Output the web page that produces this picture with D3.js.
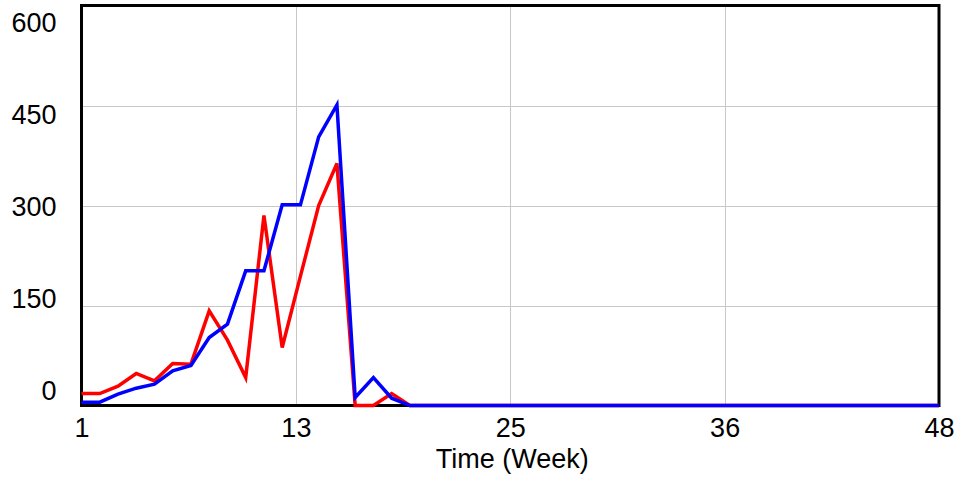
<!DOCTYPE html>
<html>
<head>
<meta charset="utf-8">
<script src="https://cdn.jsdelivr.net/npm/d3@7"></script>
<style>
  html, body { margin: 0; padding: 0; background: #ffffff; }
  svg { display: block; }
  text { font-family: "Liberation Sans", Arial, sans-serif; fill: #000; }
</style>
</head>
<body>
<svg id="chart" width="961" height="479"></svg>
<script>
// ---- data ----
const weeks = d3.range(1, 49);
const redSeries = [18, 18, 29, 48, 37, 63, 62, 142, 98, 42,
                   285, 87, 194, 300, 363, 0, 0, 18, 0, 0,
                   0, 0, 0, 0, 0, 0, 0, 0, 0, 0,
                   0, 0, 0, 0, 0, 0, 0, 0, 0, 0,
                   0, 0, 0, 0, 0, 0, 0, 0];
const blueSeries = [5, 5, 17, 26, 32, 52, 60, 102, 122, 202,
                    202, 301, 301, 403, 451, 12, 42, 11, 0, 0,
                    0, 0, 0, 0, 0, 0, 0, 0, 0, 0,
                    0, 0, 0, 0, 0, 0, 0, 0, 0, 0,
                    0, 0, 0, 0, 0, 0, 0, 0];
const xTickLabels = ["1", "13", "25", "36", "48"];
const yTickValues = [0, 150, 300, 450, 600];
const yTickLabels = ["0", "150", "300", "450", "600"];
const xAxisTitle = "Time (Week)";

// ---- layout ----
const pLeft = 81.5, pRight = 939, pTop = 5.5, pBottom = 405.5;
const fontSize = 27;
const svg = d3.select("#chart");

const x = d3.scaleLinear().domain([1, 48]).range([pLeft, pRight]);
const y = d3.scaleLinear().domain([0, 600]).range([pBottom, pTop]);
// Vensim-style label placement: labels spread evenly inside the plot height
const yLab = d3.scaleLinear().domain([0, 600]).range([391.3, 23.0]);

// x tick positions: equal quarters of the time span
const xTickPos = xTickLabels.map((_, i) => 1 + i * (47 / (xTickLabels.length - 1)));

// grid
const grid = svg.append("g").attr("stroke", "#c8c8c8").attr("stroke-width", 1);
grid.selectAll("line.h").data(yTickValues.slice(1, -1)).join("line")
  .attr("x1", pLeft).attr("x2", pRight)
  .attr("y1", d => Math.round(y(d)) + 0.5).attr("y2", d => Math.round(y(d)) + 0.5);
grid.selectAll("line.v").data(xTickPos.slice(1, -1)).join("line")
  .attr("x1", d => Math.round(x(d)) + 0.5).attr("x2", d => Math.round(x(d)) + 0.5)
  .attr("y1", pTop).attr("y2", pBottom);

// frame
svg.append("rect")
  .attr("x", pLeft).attr("y", pTop)
  .attr("width", pRight - pLeft).attr("height", pBottom - pTop)
  .attr("fill", "none").attr("stroke", "#000").attr("stroke-width", 3);

// lines
const line = d3.line().x((d, i) => x(weeks[i])).y(d => y(d));
svg.append("path").datum(redSeries)
  .attr("d", line).attr("fill", "none")
  .attr("stroke", "#ff0000").attr("stroke-width", 3.5).attr("stroke-linejoin", "miter");
svg.append("path").datum(blueSeries)
  .attr("d", line).attr("fill", "none")
  .attr("stroke", "#0000ff").attr("stroke-width", 3.5).attr("stroke-linejoin", "miter");

// x axis labels
const xAxis = d3.axisBottom(x)
  .tickValues(xTickPos)
  .tickFormat((d, i) => xTickLabels[i])
  .tickSize(0).tickPadding(12.5);
const gx = svg.append("g").attr("transform", `translate(0,${pBottom})`).call(xAxis);
gx.select(".domain").remove();
gx.selectAll("text").attr("font-size", fontSize).attr("font-family", "Liberation Sans, Arial, sans-serif").attr("fill", "#000");

// y axis labels
const yAxis = d3.axisLeft(yLab)
  .tickValues(yTickValues)
  .tickFormat((d, i) => yTickLabels[i])
  .tickSize(0).tickPadding(25);
const gy = svg.append("g").attr("transform", `translate(${pLeft},0)`).call(yAxis);
gy.select(".domain").remove();
gy.selectAll("text").attr("font-size", fontSize).attr("font-family", "Liberation Sans, Arial, sans-serif").attr("fill", "#000");

// axis title
svg.append("text")
  .attr("x", (pLeft + pRight) / 2 + 2).attr("y", 468)
  .attr("text-anchor", "middle").attr("font-size", fontSize)
  .text(xAxisTitle);
</script>
</body>
</html>
